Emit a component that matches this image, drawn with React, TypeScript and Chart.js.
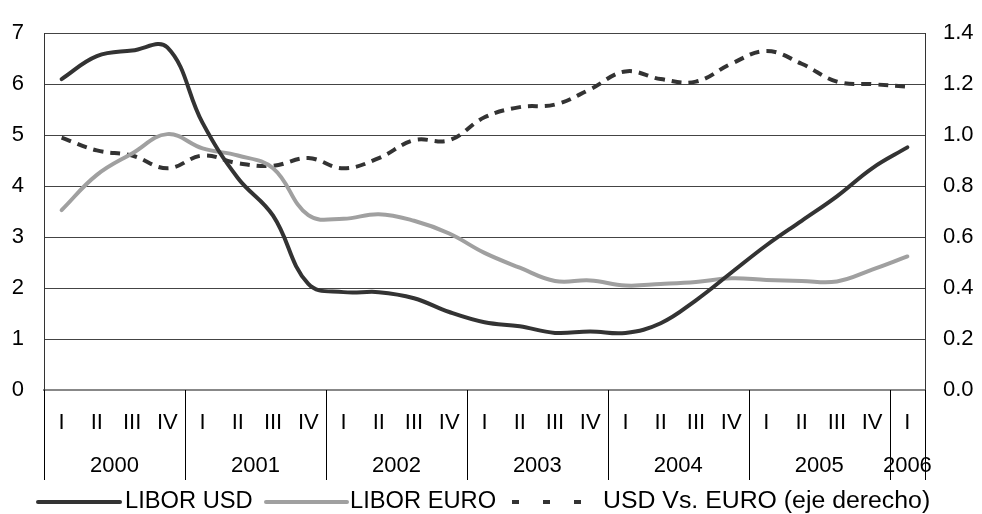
import React, { useEffect, useRef } from "react";
import { Chart, registerables } from "chart.js";

Chart.register(...registerables);

const quarters = ["I","II","III","IV","I","II","III","IV","I","II","III","IV","I","II","III","IV","I","II","III","IV","I","II","III","IV","I"];
const years = ["2000","2001","2002","2003","2004","2005","2006"];
const quartersPerYear = [4, 4, 4, 4, 4, 4, 1];

const liborUsd = [6.1, 6.55, 6.66, 6.72, 5.24, 4.16, 3.42, 2.08, 1.92, 1.92, 1.8, 1.53, 1.33, 1.25, 1.12, 1.15, 1.12, 1.31, 1.76, 2.3, 2.84, 3.32, 3.8, 4.35, 4.76];
const liborEuro = [3.53, 4.22, 4.64, 5.02, 4.74, 4.6, 4.35, 3.43, 3.36, 3.45, 3.32, 3.07, 2.69, 2.4, 2.14, 2.15, 2.05, 2.08, 2.12, 2.19, 2.16, 2.14, 2.13, 2.36, 2.62];
const usdVsEuro = [0.99, 0.94, 0.92, 0.87, 0.92, 0.89, 0.88, 0.91, 0.87, 0.91, 0.98, 0.98, 1.07, 1.11, 1.12, 1.18, 1.25, 1.22, 1.21, 1.28, 1.33, 1.28, 1.21, 1.2, 1.19];

const seriesNames = ["LIBOR USD", "LIBOR EURO", "USD Vs. EURO (eje derecho)"];

const FONT = "'Liberation Sans', Arial, sans-serif";
const DARK = "#333333";
const GRAY = "#a0a0a0";

function stretchedText(ctx: any, text: string, x: number, y: number, sx: number) {
  ctx.save();
  ctx.translate(x, y);
  ctx.scale(sx, 1);
  ctx.fillText(text, 0, 0);
  ctx.restore();
}

const axisPlugin = {
  id: "customAxis",
  afterDraw(chart: any) {
    const ctx = chart.ctx;
    const x = chart.scales.x;
    const area = chart.chartArea;
    const n = quarters.length;
    const step = (x.getPixelForValue(n - 1) - x.getPixelForValue(0)) / (n - 1);
    ctx.save();
    ctx.fillStyle = "#000";
    ctx.font = `22px ${FONT}`;
    ctx.textAlign = "center";
    ctx.textBaseline = "middle";
    quarters.forEach((q, i) => {
      ctx.fillText(q, x.getPixelForValue(i), 423);
    });
    ctx.strokeStyle = "#000";
    ctx.lineWidth = 1;
    let idx = 0;
    const bounds: number[] = [Math.round(area.left) + 0.5];
    years.forEach((yr, k) => {
      const startPx = x.getPixelForValue(idx) - step / 2;
      idx += quartersPerYear[k];
      const endPx = x.getPixelForValue(idx - 1) + step / 2;
      bounds.push(Math.round(endPx) + 0.5);
      const cx = (startPx + endPx) / 2;
      ctx.fillText(yr, cx, 466);
    });
    bounds.forEach((bx) => {
      ctx.beginPath();
      ctx.moveTo(bx, area.bottom);
      ctx.lineTo(bx, 480);
      ctx.stroke();
    });
    // legend
    const ly = 502;
    ctx.font = `23px ${FONT}`;
    ctx.textAlign = "left";
    ctx.lineCap = "round";
    ctx.lineWidth = 4;
    ctx.strokeStyle = DARK;
    ctx.beginPath();
    ctx.moveTo(38, ly);
    ctx.lineTo(120, ly);
    ctx.stroke();
    stretchedText(ctx, seriesNames[0], 125, ly, 1.03);
    ctx.strokeStyle = GRAY;
    ctx.beginPath();
    ctx.moveTo(266, ly);
    ctx.lineTo(347, ly);
    ctx.stroke();
    stretchedText(ctx, seriesNames[1], 350, ly, 1.03);
    ctx.lineCap = "butt";
    ctx.strokeStyle = DARK;
    [512, 543, 574].forEach((dx) => {
      ctx.beginPath();
      ctx.moveTo(dx, ly);
      ctx.lineTo(dx + 7, ly);
      ctx.stroke();
    });
    stretchedText(ctx, seriesNames[2], 603, ly, 1.08);
    ctx.restore();
  },
};

export default function App() {
  const ref = useRef<HTMLCanvasElement | null>(null);
  useEffect(() => {
    if (!ref.current) return;
    const chart = new Chart(ref.current, {
      type: "line",
      data: {
        labels: quarters.map((q, i) => `${q}-${i}`),
        datasets: [
          {
            label: seriesNames[0],
            data: liborUsd,
            borderColor: DARK,
            borderWidth: 4,
            pointRadius: 0,
            tension: 0.4,
            yAxisID: "y",
            borderCapStyle: "round",
          },
          {
            label: seriesNames[1],
            data: liborEuro,
            borderColor: GRAY,
            borderWidth: 4,
            pointRadius: 0,
            tension: 0.4,
            yAxisID: "y",
            borderCapStyle: "round",
          },
          {
            label: seriesNames[2],
            data: usdVsEuro,
            borderColor: DARK,
            borderWidth: 4,
            borderDash: [10, 7],
            pointRadius: 0,
            tension: 0.4,
            yAxisID: "y1",
          },
        ],
      },
      options: {
        animation: false,
        responsive: false,
        maintainAspectRatio: false,
        layout: { padding: { top: 25, left: 0, right: 0, bottom: 0 } },
        plugins: { legend: { display: false }, tooltip: { enabled: false } },
        scales: {
          x: {
            type: "category",
            offset: true,
            grid: { display: false },
            border: { display: true, color: "#888888", width: 2 },
            ticks: { display: false },
            afterFit: (s: any) => { s.height = 124; },
          },
          y: {
            position: "left",
            min: 0,
            max: 7,
            ticks: { stepSize: 1, color: "#000", font: { family: FONT, size: 22 }, padding: 20 },
            grid: { color: "#444444", lineWidth: 1, drawTicks: false },
            border: { display: true, color: "#333333", width: 1 },
            afterFit: (s: any) => { s.width = 44; },
          },
          y1: {
            position: "right",
            min: 0,
            max: 1.4,
            ticks: {
              stepSize: 0.2,
              color: "#000",
              font: { family: FONT, size: 22 },
              padding: 18,
              callback: (v: any) => Number(v).toFixed(1),
            },
            grid: { display: false, drawTicks: false },
            border: { display: true, color: "#333333", width: 1 },
            afterFit: (s: any) => { s.width = 57; },
          },
        },
      },
      plugins: [axisPlugin],
    });
    return () => chart.destroy();
  }, []);
  return (
    <div style={{ position: "fixed", left: 0, top: 0, width: 982, height: 514, background: "#fff" }}>
      <canvas ref={ref} width={982} height={514} />
    </div>
  );
}
